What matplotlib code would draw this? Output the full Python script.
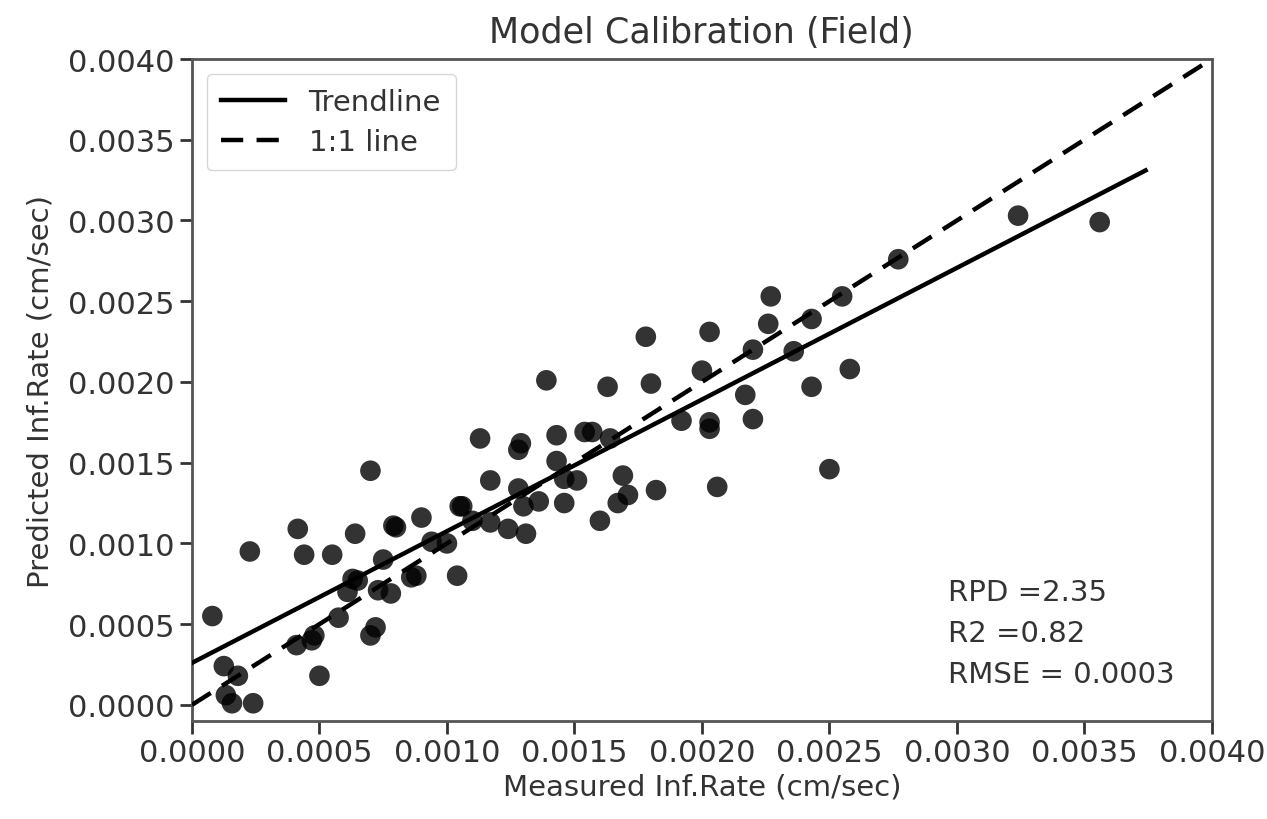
import numpy as np
import matplotlib
matplotlib.use('Agg')
import matplotlib.pyplot as plt

measured = [
    0.00008, 0.000125, 0.00018, 0.000133, 0.000157, 0.00024, 0.000227, 0.000415,
    0.00044, 0.00055, 0.00041, 0.00048, 0.00047, 0.0005, 0.000575, 0.00064,
    0.00063, 0.00065, 0.00061, 0.0007, 0.00072, 0.0007, 0.00073, 0.00075,
    0.00078, 0.00079, 0.0008, 0.00086, 0.00088, 0.0009, 0.00094, 0.001,
    0.00104, 0.00105, 0.00106, 0.00113, 0.0011, 0.00117, 0.00117, 0.00124,
    0.00128, 0.00129, 0.00128, 0.0013, 0.00131, 0.00136, 0.00139, 0.00143,
    0.00143, 0.00146, 0.00146, 0.00151, 0.00154, 0.00157, 0.00163, 0.00164,
    0.0016, 0.00167, 0.00169, 0.00171, 0.00178, 0.0018, 0.00182, 0.00192,
    0.002, 0.00203, 0.00203, 0.00203, 0.00206, 0.00217, 0.0022, 0.0022,
    0.00226, 0.00227, 0.00236, 0.00243, 0.00243, 0.0025, 0.00255, 0.00258,
    0.00277, 0.00324, 0.00356,
]
predicted = [
    0.00055, 0.00024, 0.00018, 0.00006, 0.00001, 0.00001, 0.00095, 0.00109,
    0.00093, 0.00093, 0.00037, 0.00043, 0.0004, 0.00018, 0.00054, 0.00106,
    0.00078, 0.00077, 0.0007, 0.00145, 0.00048, 0.00043, 0.00071, 0.0009,
    0.00069, 0.00111, 0.0011, 0.00079, 0.0008, 0.00116, 0.00101, 0.001,
    0.0008, 0.00123, 0.00123, 0.00165, 0.00114, 0.00139, 0.00113, 0.00109,
    0.00158, 0.00162, 0.00134, 0.00123, 0.00106, 0.00126, 0.00201, 0.00167,
    0.00151, 0.0014, 0.00125, 0.00139, 0.00169, 0.00169, 0.00197, 0.00165,
    0.00114, 0.00125, 0.00142, 0.0013, 0.00228, 0.00199, 0.00133, 0.00176,
    0.00207, 0.00231, 0.00175, 0.00171, 0.00135, 0.00192, 0.0022, 0.00177,
    0.00236, 0.00253, 0.00219, 0.00239, 0.00197, 0.00146, 0.00253, 0.00208,
    0.00276, 0.00303, 0.00299,
]

# Línea de tendencia (pendiente e intercepto)
trend_slope = 0.8155
trend_intercept = 0.00026
trend_x = [0.0, 0.00374]

stats_text = "RPD =2.35\nR2 =0.82\nRMSE = 0.0003"

plt.rcParams['font.family'] = ['DejaVu Sans']
plt.rcParams['font.size'] = 21

fig = plt.figure(figsize=(12.67, 8.2), dpi=100)
ax = fig.add_axes([0.1515, 0.1195, 0.805, 0.8073])

ax.scatter(measured, predicted, s=220, color='k', alpha=0.8, edgecolors='none', zorder=2)

tx = np.array(trend_x)
ax.plot(tx, trend_slope * tx + trend_intercept, color='k', lw=3.2, label='Trendline', zorder=3)
ax.plot([0, 0.004], [0, 0.004], color='k', lw=3.2, ls=(0, (5, 3)), label='1:1 line', zorder=3)

ax.set_xlim(0, 0.004)
ax.set_ylim(-0.0001, 0.004)
ax.set_xticks(np.arange(0, 0.00401, 0.0005))
ax.set_yticks(np.arange(0, 0.00401, 0.0005))
ax.xaxis.set_major_formatter(matplotlib.ticker.FormatStrFormatter('%.4f'))
ax.yaxis.set_major_formatter(matplotlib.ticker.FormatStrFormatter('%.4f'))
ax.tick_params(length=9, width=2, colors='#333333', labelcolor='#333333', labelsize=22)
for sp in ax.spines.values():
    sp.set_linewidth(2)
    sp.set_color('#555555')

ax.set_xlabel('Measured Inf.Rate (cm/sec)', color='#333333')
ax.set_ylabel('Predicted Inf.Rate (cm/sec)', color='#333333', labelpad=10)
ax.set_title('Model Calibration (Field)', color='#333333', pad=12)

leg = ax.legend(loc='upper left', handlelength=2.2, borderpad=0.5, labelspacing=0.4)
for t in leg.get_texts():
    t.set_color('#333333')

ax.text(0.741, 0.05, stats_text, transform=ax.transAxes, ha='left', va='bottom',
        color='#333333', linespacing=1.6)

plt.savefig('out.png', dpi=100)
